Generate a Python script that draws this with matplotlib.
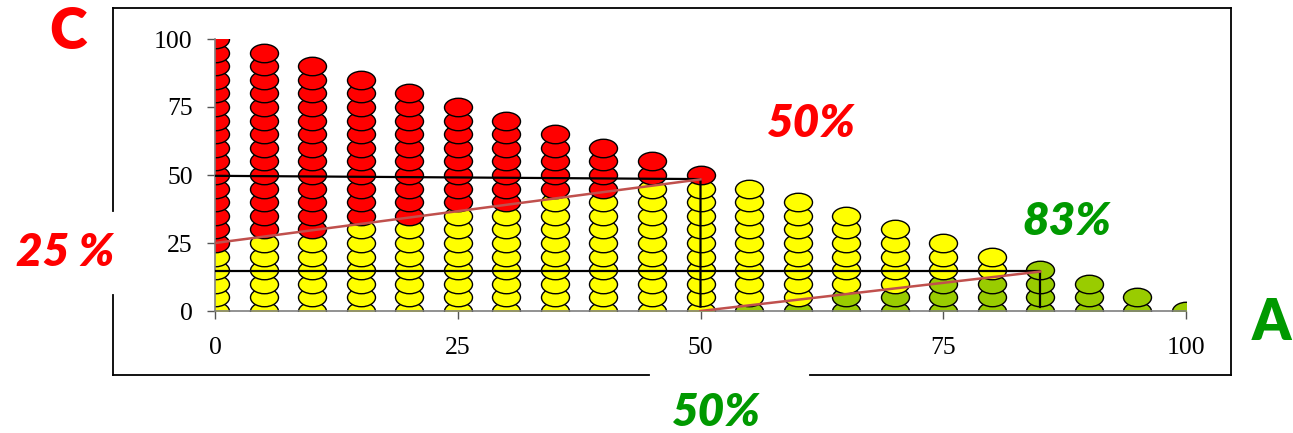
import numpy as np
import matplotlib
matplotlib.use("Agg")
import matplotlib.pyplot as plt
from matplotlib.path import Path
from matplotlib.transforms import Affine2D
from matplotlib.lines import Line2D

# ------------------------------------------------------
# data: one column of stacked points per A value (step 5)
# ------------------------------------------------------
a_vals = [0, 5, 10, 15, 20, 25, 30, 35, 40, 45, 50,
          55, 60, 65, 70, 75, 80, 85, 90, 95, 100]
n_green = [0, 0, 0, 0, 0, 0, 0, 0, 0, 0, 0,
           1, 1, 2, 2, 3, 3, 4, 3, 2, 1]
n_yellow = [5, 6, 6, 7, 7, 8, 8, 9, 9, 10, 10,
            9, 8, 6, 5, 3, 2, 0, 0, 0, 0]
n_red = [16, 14, 13, 11, 10, 8, 7, 5, 4, 2, 1,
         0, 0, 0, 0, 0, 0, 0, 0, 0, 0]
c_step = 5

# guide lines (A, C)
black_x1 = [0, 50, 50]
black_y1 = [49.7, 48.5, 1.6]
black_x2 = [0, 85, 85]
black_y2 = [14.7, 14.7, 1.6]
red_x1 = [0, 50]
red_y1 = [25, 48.4]
red_x2 = [50, 85]
red_y2 = [0, 14.5]

ticks = [0, 25, 50, 75, 100]

RED = "#FF0000"
YELLOW = "#FFFF00"
GREEN = "#99CC00"
TXT_GREEN = "#009900"
LINE_RED = "#C0504D"

W, H = 1293, 433
fig = plt.figure(figsize=(W / 100, H / 100), dpi=100)
fig.patch.set_facecolor("white")


def fx(px):
    return px / W


def fy(py):
    return 1 - py / H


ax = fig.add_axes([fx(215), fy(311), fx(1186) - fx(215), fy(39) - fy(311)])

# build point lists per colour
pts = {"g": ([], []), "y": ([], []), "r": ([], [])}
for a, ng, ny, nr in zip(a_vals, n_green, n_yellow, n_red):
    k = 0
    for key, n in (("g", ng), ("y", ny), ("r", nr)):
        for _ in range(n):
            pts[key][0].append(a)
            pts[key][1].append(k * c_step)
            k += 1

ellipse = Path.unit_circle().transformed(Affine2D().scale(1, 0.66))
msize = 28 * 72 / 100
for key, col in (("g", GREEN), ("y", YELLOW), ("r", RED)):
    xs, ys = pts[key]
    ax.scatter(xs, ys, marker=ellipse, s=msize ** 2, facecolor=col,
               edgecolor="black", linewidth=1.0, zorder=2)

ax.plot(black_x1, black_y1, color="black", lw=1.6, zorder=3)
ax.plot(black_x2, black_y2, color="black", lw=1.6, zorder=3)
ax.plot(red_x1, red_y1, color=LINE_RED, lw=1.8, zorder=4)
ax.plot(red_x2, red_y2, color=LINE_RED, lw=1.8, zorder=4)

ax.set_xlim(0, 100)
ax.set_ylim(0, 100)
ax.set_xticks(ticks)
ax.set_yticks(ticks)
for s in ("top", "right"):
    ax.spines[s].set_visible(False)
for s in ("left", "bottom"):
    ax.spines[s].set_color("#7f7f7f")
    ax.spines[s].set_linewidth(1.2)
ax.tick_params(axis="both", direction="out", length=6, width=1.0,
               color="#555555")
ax.tick_params(axis="x", pad=13)
ax.tick_params(axis="y", pad=10)
for lab in ax.get_xticklabels() + ax.get_yticklabels():
    lab.set_family(["Liberation Serif", "DejaVu Serif"])
    lab.set_fontsize(18.5)

# outer frame with gaps for the labels
frame = [
    ((113, 113), (8, 211)),
    ((113, 113), (295, 375)),
    ((113, 649), (375, 375)),
    ((810, 1231), (375, 375)),
    ((1231, 1231), (375, 8)),
    ((1231, 113), (8, 8)),
]
for xs, ys in frame:
    fig.add_artist(Line2D([fx(v) for v in xs], [fy(v) for v in ys],
                          color="black", lw=1.3))

bold = dict(family=["Lato", "DejaVu Sans"], weight="heavy")
fig.text(fx(68), fy(32), "C", color=RED, fontsize=41, ha="center",
         va="center", **bold)
fig.text(fx(1252), fy(323), "A", color=TXT_GREEN, fontsize=40, ha="left",
         va="center", **bold)
fig.text(fx(65), fy(253), "25 %", color=RED, fontsize=33, ha="center",
         va="center", style="italic", **bold)
fig.text(fx(811), fy(124), "50%", color=RED, fontsize=33, ha="center",
         va="center", style="italic", **bold)
fig.text(fx(1067), fy(222), "83%", color=TXT_GREEN, fontsize=33,
         ha="center", va="center", style="italic", **bold)
fig.text(fx(716), fy(413), "50%", color=TXT_GREEN, fontsize=33,
         ha="center", va="center", style="italic", **bold)

fig.savefig("out.png", dpi=100)
